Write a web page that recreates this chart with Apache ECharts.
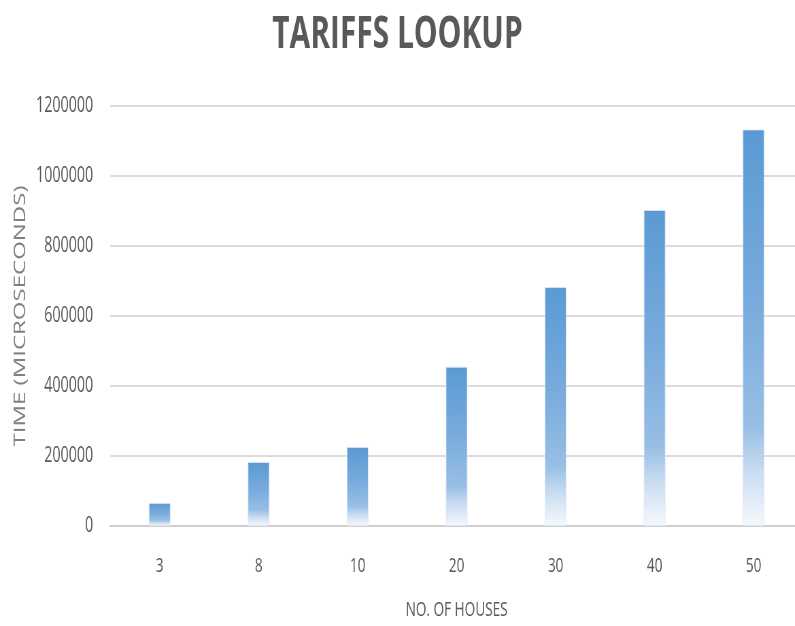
<!DOCTYPE html>
<html>
<head>
<meta charset="utf-8">
<title>Tariffs Lookup</title>
<script src="https://cdn.jsdelivr.net/npm/echarts@6/dist/echarts.min.js"></script>
<style>
  html, body { margin: 0; padding: 0; overflow: hidden; background: #ffffff; }
  /* the chart is laid out wide and narrowed horizontally, giving condensed lettering */
  #chart {
    width: 1169px;
    height: 626px;
    transform: scaleX(0.68);
    transform-origin: 0 0;
  }
</style>
</head>
<body>
<div id="chart"></div>
<script>
  // Number of houses on the x axis
  var houses = ['3', '8', '10', '20', '30', '40', '50'];
  // Lookup time in microseconds for each house count
  var lookupTimes = [66000, 183000, 226000, 455000, 683000, 903000, 1133000];
  // Y axis range and step
  var yMin = 0;
  var yMax = 1200000;
  var yStep = 200000;

  var labelFont = 'Open Sans';
  var textGray = '#595959';

  var chart = echarts.init(document.getElementById('chart'), null, { renderer: 'canvas' });

  chart.setOption({
    backgroundColor: '#ffffff',
    animation: false,
    title: {
      text: 'TARIFFS LOOKUP',
      left: 'center',
      top: 8,
      textStyle: {
        fontFamily: labelFont,
        fontWeight: 'bold',
        fontSize: 44,
        color: textGray
      }
    },
    grid: {
      left: 162,
      width: 1019,
      top: 106,
      height: 420,
      outerBoundsMode: 'none',
      containLabel: false
    },
    xAxis: {
      type: 'category',
      data: houses,
      name: 'NO. OF HOUSES',
      nameLocation: 'middle',
      nameGap: 74,
      nameTextStyle: {
        fontFamily: labelFont,
        fontSize: 20,
        color: textGray
      },
      axisLine: { show: true, lineStyle: { color: '#cfcfcf', width: 2 } },
      axisTick: { show: false },
      axisLabel: {
        margin: 30,
        fontFamily: labelFont,
        fontSize: 20,
        color: textGray
      }
    },
    yAxis: {
      type: 'value',
      min: yMin,
      max: yMax,
      interval: yStep,
      name: 'TIME (MICROSECONDS)',
      nameLocation: 'middle',
      nameGap: 116,
      nameTextStyle: {
        fontFamily: labelFont,
        fontSize: 24,
        color: '#7f7f7f'
      },
      axisLine: { show: false },
      axisTick: { show: false },
      axisLabel: {
        margin: 25,
        fontFamily: labelFont,
        fontSize: 21,
        color: textGray,
        formatter: function (v) { return String(v); }
      },
      splitLine: { show: true, lineStyle: { color: '#dcdcdc', width: 2 } }
    },
    series: [{
      type: 'bar',
      data: lookupTimes,
      barWidth: 32,
      itemStyle: {
        borderColor: 'rgba(220,233,247,0.8)',
        borderWidth: 1,
        color: new echarts.graphic.LinearGradient(0, 0, 0, 1, [
          { offset: 0, color: '#5a9ad4' },
          { offset: 0.45, color: '#7aacdd' },
          { offset: 0.75, color: '#98bfe5' },
          { offset: 0.86, color: '#c9dcf1' },
          { offset: 1, color: '#f6f9fd' }
        ])
      }
    }]
  });
</script>
</body>
</html>
